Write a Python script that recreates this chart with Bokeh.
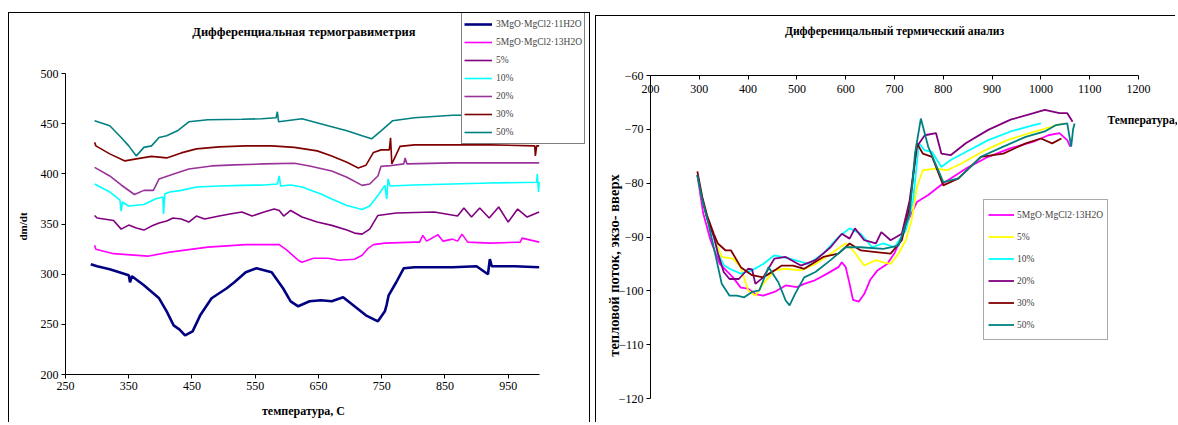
from math import pi
from bokeh.plotting import figure
from bokeh.models import Range1d, FixedTicker, Legend, LegendItem, Label
from bokeh.embed import file_html
from bokeh.resources import INLINE

SERIF = "Liberation Serif"

# ---------------- Left chart: Дифференциальная термогравиметрия ----------------
tg_title = "Дифференциальная  термогравиметрия"
tg_xlabel = "температура, С"
tg_ylabel = "dm/dt"
tg_x_ticks = [250, 350, 450, 550, 650, 750, 850, 950]
tg_y_ticks = [200, 250, 300, 350, 400, 450, 500]

tg_3mgo_x = [290, 300, 320, 340, 350, 352, 355, 374, 398, 410, 421, 430, 439, 451, 463, 481, 505, 517, 535, 552,
             576, 594, 606, 618, 636, 654, 671, 689, 707, 725, 744, 755, 758, 761, 773, 785, 802, 862, 900, 918,
             921, 924, 960, 999]
tg_3mgo_y = [310, 308, 305, 301, 299, 292, 298, 289, 276, 263, 249, 245, 239, 243, 259, 276, 286, 292, 302, 306,
             302, 286, 273, 268, 273, 274, 273, 277, 268, 259, 253, 263, 270, 279, 292, 306, 307, 307, 308, 300,
             315, 308, 308, 307]

tg_5mgo_x = [296, 298, 326, 380, 415, 475, 535, 588, 600, 618, 624, 642, 665, 683, 707, 719, 728, 737, 755, 802,
             810, 815, 821, 839, 847, 862, 870, 877, 886, 921, 969, 972, 999]
tg_5mgo_y = [329, 325, 320.5, 318, 322, 327, 329.5, 329.5, 324, 314, 312, 316, 316, 314, 315, 319, 325.5, 329.5,
             331, 332, 332, 338.7, 333, 339.4, 333, 335, 333, 340, 332, 331, 332, 336, 332]

tg_5_x = [296, 300, 326, 338, 350, 362, 374, 386, 398, 410, 420, 433, 445, 457, 470, 493, 510, 529, 545, 564,
          580, 588, 595, 606, 624, 648, 671, 695, 707, 719, 731, 744, 773, 833, 870, 880, 892, 905, 920, 935,
          950, 965, 980, 999]
tg_5_y = [358.6, 356, 353.6, 345, 349, 346, 344, 348, 351, 353, 356, 355, 352, 358, 355, 358, 360, 362, 358, 362,
          365, 363.6, 358, 363.6, 357, 352, 348.7, 344, 341, 340, 345, 358.6, 361, 362, 358, 366, 357, 366, 356, 367,
          352, 365, 357, 362]

tg_10_x = [296, 320, 336, 338, 340, 350, 374, 392, 404, 405, 407, 415, 433, 457, 493, 529, 564, 585, 588, 590,
           606, 624, 654, 671, 695, 719, 731, 744, 755, 758, 760, 763, 802, 862, 921, 995, 996, 998, 999]
tg_10_y = [390, 382, 374, 363, 372, 368, 369.5, 375, 377, 360, 380, 382, 383.6, 387, 388, 388.6, 389, 390, 398, 388,
           389, 387, 380, 375, 368.5, 364.6, 368, 378.5, 388.6, 375, 395, 388, 389, 390, 391, 391.7, 400, 382, 392]

tg_20_x = [296, 320, 338, 359, 374, 389, 398, 421, 445, 481, 517, 564, 612, 636, 671, 695, 719, 731, 744, 749,
           760, 785, 787, 790, 862, 999]
tg_20_y = [406.6, 398, 389, 379.5, 383.6, 383.6, 395, 400, 405, 408, 409, 410, 410.6, 408, 403, 396.7, 388.6, 390,
           398, 407.6, 408, 410, 416, 410, 411, 411]

tg_30_x = [296, 298, 320, 344, 362, 386, 410, 433, 457, 493, 535, 576, 612, 648, 671, 695, 713, 725, 737, 749,
           762, 764, 766, 779, 802, 921, 992, 993, 995, 999]
tg_30_y = [431.5, 428, 420, 413, 415, 417.5, 416, 421, 425, 427, 428, 428, 426.5, 423, 418, 411.6, 406, 408.6,
           421.5, 424, 424, 436, 410, 427.5, 429, 429, 428, 418, 428, 428]

tg_50_x = [296, 320, 338, 350, 362, 374, 386, 398, 410, 427, 445, 475, 529, 560, 583, 585, 587, 624, 665, 695,
           719, 734, 749, 767, 802, 862, 999]
tg_50_y = [453, 448, 436.4, 428, 418, 426.5, 428, 436.4, 438, 443, 452, 454, 454.6, 455, 456, 462, 452, 455, 448,
           443, 438, 435, 443, 453, 456, 458.6, 459]

tg_labels = ["3MgO·MgCl2·11H2O", "5MgO·MgCl2·13H2O", "5%", "10%", "20%", "30%", "50%"]
tg_colors = ["#000080", "#FF00FF", "#800080", "#00FFFF", "#993399", "#800000", "#008080"]
tg_widths = [2.6, 1.6, 1.6, 1.6, 1.6, 1.6, 1.6]
tg_series = [(tg_3mgo_x, tg_3mgo_y), (tg_5mgo_x, tg_5mgo_y), (tg_5_x, tg_5_y), (tg_10_x, tg_10_y),
             (tg_20_x, tg_20_y), (tg_30_x, tg_30_y), (tg_50_x, tg_50_y)]

# ---------------- Right chart: Дифференицальный термический анализ ----------------
dta_title = "Дифференицальный термический анализ"
dta_xlabel = "Температура, С"
dta_ylabel = "тепловой поток, экзо- вверх"
dta_x_ticks = [200, 300, 400, 500, 600, 700, 800, 900, 1000, 1100, 1200]
dta_y_ticks = [-120, -110, -100, -90, -80, -70, -60]

dta_5mgo_x = [296, 308, 323, 342, 369, 385, 400, 415, 431, 454, 477, 500, 515, 538, 562, 585, 592, 600, 608, 615,
              627, 638, 650, 665, 685, 700, 715, 731, 746, 769, 800, 846, 892, 938, 985, 1015, 1038, 1054, 1060]
dta_5mgo_y = [-78.5, -85.6, -90.6, -95, -97.5, -99.4, -99.6, -100.6, -100.9, -100.2, -99, -99.3, -98.7, -98, -96.8,
              -95.6, -94.7, -95.6, -98.7, -101.7, -102, -100.6, -98, -96.2, -95, -93, -90, -86.3, -83.5, -82.2, -80,
              -77.3, -75.1, -73.5, -72.3, -71.1, -70.7, -72, -73.2]

dta_5_x = [296, 306, 316, 330, 346, 369, 385, 400, 415, 431, 454, 477, 508, 538, 569, 600, 615, 638, 662, 677,
           692, 708, 723, 735, 746, 758, 785, 808, 838, 885, 931, 977, 1023, 1046]
dta_5_y = [-78.5, -83, -86.5, -90, -93.7, -94, -95.6, -99.9, -100.9, -98.7, -96.2, -95.9, -96.2, -95, -93.1, -91.2,
           -92.5, -95.3, -94.3, -94.7, -95, -93.1, -90.6, -86.9, -80.7, -77.6, -77.3, -77.6, -76.3, -73.9, -72, -70.7,
           -69.5, -68.9]

dta_10_x = [296, 306, 316, 330, 338, 350, 362, 385, 408, 431, 454, 485, 523, 554, 585, 608, 631, 654, 677, 700,
            723, 738, 750, 762, 777, 796, 815, 846, 892, 938, 985, 1000]
dta_10_y = [-78.5, -83, -86.5, -90, -93, -95.2, -95.9, -96.8, -96.2, -95, -93.4, -94, -95, -93.1, -90, -88.4, -89.4,
            -91.9, -91.2, -91.9, -88.8, -83.2, -72.6, -73.9, -74.2, -77, -75.7, -74.2, -72, -70.4, -69.2, -68.9]

dta_20_x = [296, 306, 316, 330, 338, 350, 362, 381, 400, 408, 415, 431, 454, 477, 508, 538, 569, 592, 608, 619,
            638, 662, 673, 692, 715, 731, 746, 762, 785, 796, 815, 846, 892, 938, 985, 1008, 1038, 1054, 1065]
dta_20_y = [-78.5, -83, -86.5, -90, -93, -96.5, -97.8, -97.8, -95.9, -96, -98.7, -97.5, -94, -93.7, -95.3, -94.3,
            -91.9, -89.4, -90.3, -88.4, -90.6, -91.2, -89.1, -90.6, -89.4, -83.2, -73.2, -71.1, -70.7, -74.5, -74.8,
            -72.6, -70.1, -68.2, -67, -66.4, -67, -67, -68.6]

dta_30_x = [296, 306, 316, 330, 338, 354, 365, 385, 408, 431, 454, 469, 492, 515, 554, 585, 608, 631, 662, 692,
            715, 731, 746, 758, 777, 800, 831, 877, 923, 969, 1000, 1023, 1042]
dta_30_y = [-77.8, -82.5, -86, -89.5, -91.2, -92.5, -92.5, -95.6, -97.1, -97.5, -96.2, -95.3, -95.3, -95.9, -93.7,
            -93.1, -91.2, -92.5, -92.8, -93.1, -90.6, -84.4, -72.6, -74.5, -75.1, -80.4, -79.1, -75.1, -74.5, -72.6,
            -71.7, -72.6, -71.7]

dta_50_x = [296, 306, 316, 331, 346, 362, 377, 392, 408, 423, 442, 462, 477, 485, 496, 515, 538, 569, 600, 631,
            677, 708, 731, 742, 754, 769, 800, 831, 877, 923, 969, 1008, 1031, 1054, 1062, 1066, 1069]
dta_50_y = [-78.5, -83, -86.5, -92.5, -98.7, -100.9, -100.9, -101.2, -100.2, -99.9, -95.6, -98.4, -101.8, -102.7,
            -100.6, -97.5, -96.5, -94.3, -91.9, -91.9, -92.2, -91.6, -85.7, -74.5, -68, -73.2, -79.8, -79.1, -75.1,
            -73.2, -71.4, -70.4, -69.2, -68.9, -73.2, -70, -68.9]

dta_labels = ["5MgO·MgCl2·13H2O", "5%", "10%", "20%", "30%", "50%"]
dta_colors = ["#FF00FF", "#FFFF00", "#00FFFF", "#800080", "#800000", "#008080"]
dta_series = [(dta_5mgo_x, dta_5mgo_y), (dta_5_x, dta_5_y), (dta_10_x, dta_10_y), (dta_20_x, dta_20_y),
              (dta_30_x, dta_30_y), (dta_50_x, dta_50_y)]


def style_axis(ax, ticks, bounds):
    ax.ticker = FixedTicker(ticks=ticks)
    ax.bounds = bounds
    ax.axis_line_color = "black"
    ax.axis_line_width = 1
    ax.major_tick_line_color = "black"
    ax.minor_tick_line_color = None
    ax.major_tick_out = 4
    ax.major_tick_in = 0
    ax.major_label_text_font = SERIF
    ax.major_label_text_font_size = "12px"
    ax.major_label_text_color = "black"
    ax.major_label_standoff = 3


def abs_style(left_px, top_px, borders):
    st = {"position": "absolute", "left": f"{left_px}px", "top": f"{top_px}px"}
    for b in borders:
        st[f"border-{b}"] = "1px solid black"
    return st


# ---- left figure (frame extended up and right so the legend sits inside it) ----
left = figure(width=582, height=410, x_range=Range1d(250, 1081.75), y_range=Range1d(200, 560),
              output_backend="svg", toolbar_location=None,
              min_border_left=56, min_border_right=0, min_border_top=0, min_border_bottom=49,
              styles=abs_style(8, 12, ["left", "top", "right"]))
left.xgrid.visible = False
left.ygrid.visible = False
left.outline_line_color = None
style_axis(left.xaxis[0], tg_x_ticks, (250, 1000))
style_axis(left.yaxis[0], tg_y_ticks, (200, 500))

items = []
for (xs, ys), lab, col, lw in zip(tg_series, tg_labels, tg_colors, tg_widths):
    r = left.line(xs, ys, line_color=col, line_width=lw)
    items.append(LegendItem(label=lab, renderers=[r]))

leg = Legend(items=items, location=(396, 230), border_line_color="black", border_line_width=1,
             background_fill_color="white", background_fill_alpha=1.0,
             label_text_font=SERIF, label_text_font_size="9.5px", glyph_width=28, glyph_height=18,
             label_height=18, spacing=0, padding=2, label_standoff=4, margin=0)
left.add_layout(leg, "center")

# ---- right figure ----
right = figure(width=580, height=407, x_range=Range1d(200, 1200), y_range=Range1d(-120, -60),
               output_backend="svg", toolbar_location=None, x_axis_location="above",
               min_border_left=54, min_border_right=38, min_border_top=59, min_border_bottom=25,
               styles=abs_style(595, 15, ["left", "top"]))
right.xgrid.visible = False
right.ygrid.visible = False
right.outline_line_color = None
style_axis(right.xaxis[0], dta_x_ticks, (200, 1200))
style_axis(right.yaxis[0], dta_y_ticks, (-120, -60))
right.xaxis[0].major_tick_out = 0
right.xaxis[0].major_tick_in = 4
right.xaxis[0].major_label_standoff = -17

ritems = []
for (xs, ys), lab, col in zip(dta_series, dta_labels, dta_colors):
    r = right.line(xs, ys, line_color=col, line_width=1.8)
    ritems.append(LegendItem(label=lab, renderers=[r]))

rleg = Legend(items=ritems, location=(333, 58), border_line_color="#555555", border_line_width=1.5,
              background_fill_color="white", background_fill_alpha=1.0,
              label_text_font=SERIF, label_text_font_size="9.5px", glyph_width=26, glyph_height=21,
              label_height=21, spacing=1, padding=4, label_standoff=3, margin=0)
right.add_layout(rleg, "center")

# ---- transparent overlay (page pixel coordinates) carrying the chart titles and axis titles ----
overlay = figure(width=1177, height=424, x_range=Range1d(0, 1177), y_range=Range1d(424, 0),
                 x_axis_type=None, y_axis_type=None, output_backend="svg", toolbar_location=None,
                 min_border=0, outline_line_color=None, background_fill_alpha=0, border_fill_alpha=0,
                 styles={"position": "absolute", "left": "0px", "top": "0px", "pointer-events": "none"})
overlay.grid.visible = False


def txt(x, y, text, size, angle=0.0, align="center"):
    overlay.add_layout(Label(x=x, y=y, text=text, angle=angle, text_align=align, text_baseline="middle",
                             text_font=SERIF, text_font_style="bold", text_font_size=size, text_color="black"))


txt(305, 31, tg_title, "12.5px")
txt(22, 226, tg_ylabel, "11px", angle=pi / 2)
txt(303, 410, tg_xlabel, "12px")
txt(894, 31, dta_title, "11.6px")
txt(613, 265, dta_ylabel, "14.5px", angle=pi / 2)
txt(1107, 119, dta_xlabel, "11.5px", align="left")

with open("out.html", "w", encoding="utf-8") as f:
    f.write(file_html([left, right, overlay], INLINE))
